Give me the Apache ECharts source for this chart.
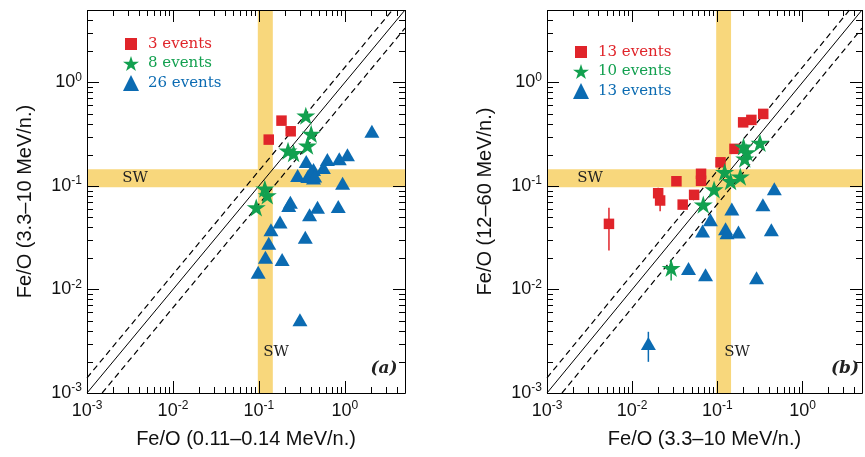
<!DOCTYPE html>
<html>
<head>
<meta charset="utf-8">
<script src="https://cdn.jsdelivr.net/npm/echarts@6/dist/echarts.min.js"></script>
<style>
  html, body { margin: 0; padding: 0; background: #fff; }
  #chart { width: 865px; height: 457px; }
</style>
</head>
<body>
<div id="chart"></div>
<script>
// panel (a): Fe/O 0.11-0.14 MeV/n. (x) vs 3.3-10 MeV/n. (y)
var aRedX = [0.183, 0.234, 0.130];
var aRedY = [0.427, 0.337, 0.280];
var aGreenX = [0.351, 0.405, 0.367, 0.218, 0.253, 0.117, 0.125, 0.093];
var aGreenY = [0.477, 0.318, 0.245, 0.219, 0.207, 0.094, 0.081, 0.062];
var aBlueX = [2.06, 0.355, 0.431, 0.625, 0.562, 0.86, 1.07, 0.282, 0.37, 0.431, 0.94, 0.398, 0.445,
  0.232, 0.222, 0.48, 0.837, 0.388, 0.176, 0.138, 0.346, 0.130, 0.119, 0.186, 0.098, 0.30];
var aBlueY = [0.337, 0.172, 0.144, 0.180, 0.151, 0.183, 0.20, 0.126, 0.123, 0.119, 0.106, 0.135, 0.125,
  0.0697, 0.0647, 0.0623, 0.0633, 0.0526, 0.0447, 0.0377, 0.032, 0.028, 0.0205, 0.0195, 0.0147, 0.0051];

// panel (b): Fe/O 3.3-10 MeV/n. (x) vs 12-60 MeV/n. (y)
var bRedX = [0.346, 0.251, 0.201, 0.159, 0.109, 0.0644, 0.0644, 0.0331, 0.0202, 0.0213, 0.0534, 0.0392, 0.00534];
var bRedY = [0.496, 0.434, 0.411, 0.228, 0.169, 0.131, 0.112, 0.111, 0.085, 0.0723, 0.082, 0.066, 0.043];
var bGreenX = [0.317, 0.203, 0.222, 0.21, 0.122, 0.186, 0.143, 0.0916, 0.0684, 0.0287];
var bGreenY = [0.26, 0.24, 0.211, 0.183, 0.136, 0.123, 0.111, 0.0923, 0.066, 0.0161];
var bBlueX = [0.148, 0.343, 0.083, 0.0671, 0.125, 0.13, 0.177, 0.431, 0.467, 0.0459, 0.0727, 0.289, 0.0155];
var bBlueY = [0.060, 0.0657, 0.0471, 0.0366, 0.0386, 0.0353, 0.0358, 0.0377, 0.0937, 0.0159, 0.0139, 0.013, 0.0030];

// error bars in panel (b): x, low, high
var bRedErrX = [0.0202, 0.0213, 0.00534];
var bRedErrLo = [0.085, 0.057, 0.0238];
var bRedErrHi = [0.096, 0.0723, 0.0615];
var bGreenErrX = [0.0287];
var bGreenErrLo = [0.0122];
var bGreenErrHi = [0.0195];
var bBlueErrX = [0.0155];
var bBlueErrLo = [0.0020];
var bBlueErrHi = [0.0039];

var legendA = ["3 events", "8 events", "26 events"];
var legendB = ["13 events", "10 events", "13 events"];
var xTitles = ["Fe/O (0.11\u20130.14 MeV/n.)", "Fe/O (3.3\u201310 MeV/n.)"];
var yTitles = ["Fe/O (3.3\u201310 MeV/n.)", "Fe/O (12\u201360 MeV/n.)"];

var axisMin = 0.001, axisMax = 5;
var swBand = [0.097, 0.145];     // solar wind range
var diagUp = 1.4, diagLo = 1.5;  // dashed lines factor
var majorTicks = [0.001, 0.01, 0.1, 1];
var minorSteps = [2, 3, 4, 5, 6, 7, 8, 9];

var RED = "#E0242A", GREEN = "#12A04F", BLUE = "#0B6BB2", BAND = "#F8D77C";
var SANS = "Liberation Sans";
var SERIF = "DejaVu Serif";
var STAR = "path://M50,0 L61.2,34.5 L97.6,34.5 L68.2,55.9 L79.4,90.5 L50,69.1 L20.6,90.5 L31.8,55.9 L2.4,34.5 L38.8,34.5 Z";
var SQUARE = "path://M0,0 M2,2 L14,2 L14,14 L2,14 Z M16,16";

var grids = [
  { left: 87, top: 10, width: 318, height: 383 },
  { left: 547, top: 10, width: 317, height: 383 }
];

function zip(xs, ys) { return xs.map(function (x, i) { return [x, ys[i]]; }); }
function zip3(xs, lo, hi) { return xs.map(function (x, i) { return [x, lo[i], hi[i]]; }); }

// tick list: [value, kind]  kind 0 x-major, 1 x-minor, 2 y-major, 3 y-minor, 4 frame
var tickData = [];
majorTicks.forEach(function (m) {
  tickData.push([m, 0], [m, 2]);
  minorSteps.forEach(function (s) {
    if (m * s <= axisMax) tickData.push([m * s, 1], [m * s, 3]);
  });
});
tickData.push([1, 4]);

function logLabel(v) {
  var e = Math.round(Math.log10(v));
  if (Math.abs(v / Math.pow(10, e) - 1) > 1e-6) return "";
  return "{b|10}{s|" + e + "}";
}
var labelRich = {
  b: { fontFamily: SANS, fontSize: 18, color: "#111", lineHeight: 22 },
  s: { fontFamily: SANS, fontSize: 12, color: "#111", lineHeight: 12, verticalAlign: "top" }
};

function tickItem(params, api) {
  var cs = params.coordSys;
  var v = api.value(0), k = api.value(1);
  var st = { stroke: "#000", lineWidth: 1, fill: null };
  if (k === 4) {
    return { type: "rect", shape: { x: cs.x + 0.5, y: cs.y + 0.5, width: cs.width, height: cs.height }, style: st };
  }
  var len = (k % 2 === 0) ? 12 : 6;
  if (k < 2) {
    var px = Math.round(api.coord([v, 1])[0]) + 0.5;
    return { type: "group", children: [
      { type: "line", shape: { x1: px, y1: cs.y + cs.height, x2: px, y2: cs.y + cs.height - len }, style: st },
      { type: "line", shape: { x1: px, y1: cs.y, x2: px, y2: cs.y + len }, style: st }
    ] };
  }
  var py = Math.round(api.coord([1, v])[1]) + 0.5;
  return { type: "group", children: [
    { type: "line", shape: { x1: cs.x, y1: py, x2: cs.x + len, y2: py }, style: st },
    { type: "line", shape: { x1: cs.x + cs.width, y1: py, x2: cs.x + cs.width - len, y2: py }, style: st }
  ] };
}

function errItem(params, api) {
  var top = api.coord([api.value(0), api.value(2)]);
  var bot = api.coord([api.value(0), api.value(1)]);
  return { type: "line", shape: { x1: top[0], y1: top[1], x2: bot[0], y2: bot[1] },
    style: { stroke: api.visual("color"), lineWidth: 1.5 } };
}

var series = [];
var panels = [
  { red: zip(aRedX, aRedY), green: zip(aGreenX, aGreenY), blue: zip(aBlueX, aBlueY), errs: [] },
  { red: zip(bRedX, bRedY), green: zip(bGreenX, bGreenY), blue: zip(bBlueX, bBlueY),
    errs: [[zip3(bRedErrX, bRedErrLo, bRedErrHi), RED], [zip3(bGreenErrX, bGreenErrLo, bGreenErrHi), GREEN],
      [zip3(bBlueErrX, bBlueErrLo, bBlueErrHi), BLUE]] }
];

panels.forEach(function (p, i) {
  var ax = { xAxisIndex: i, yAxisIndex: i };
  // SW bands
  series.push(Object.assign({
    type: "line", data: [], z: 1, silent: true,
    markArea: { silent: true, itemStyle: { color: BAND, opacity: 1 },
      data: [[{ xAxis: swBand[0] }, { xAxis: swBand[1] }], [{ yAxis: swBand[0] }, { yAxis: swBand[1] }]] }
  }, ax));
  // y = x and dashed lines
  var diag = [
    [[axisMin, axisMin], [axisMax, axisMax]],
    [[axisMin, axisMin * diagUp], [axisMax / diagUp, axisMax]],
    [[axisMin * diagLo, axisMin], [axisMax, axisMax / diagLo]]
  ];
  diag.forEach(function (d, j) {
    series.push(Object.assign({
      type: "line", data: d, symbol: "none", z: 2, silent: true,
      lineStyle: { color: "#000", width: j === 0 ? 1 : 1.2, type: j === 0 ? "solid" : [6, 4] }
    }, ax));
  });
  p.errs.forEach(function (e) {
    series.push(Object.assign({
      type: "custom", data: e[0], renderItem: errItem, itemStyle: { color: e[1] }, z: 3, silent: true
    }, ax));
  });
  var pre = i === 0 ? "a-" : "b-";
  series.push(Object.assign({ type: "scatter", name: pre + "red", data: p.red, symbol: SQUARE,
    symbolSize: 14, itemStyle: { color: RED, opacity: 1 }, z: 4 }, ax));
  series.push(Object.assign({ type: "scatter", name: pre + "green", data: p.green, symbol: STAR,
    symbolSize: 19, symbolKeepAspect: true, itemStyle: { color: GREEN, opacity: 1 }, z: 4 }, ax));
  series.push(Object.assign({ type: "scatter", name: pre + "blue", data: p.blue, symbol: "triangle",
    symbolSize: [15, 13], itemStyle: { color: BLUE, opacity: 1 }, z: 4 }, ax));
  // ticks and frame
  series.push(Object.assign({ type: "custom", data: tickData, dimensions: ["v", "k"],
    encode: { x: "v", y: "v" }, renderItem: tickItem, z: 5, silent: true }, ax));
});

var names = {
  "a-red": legendA[0], "a-green": legendA[1], "a-blue": legendA[2],
  "b-red": legendB[0], "b-green": legendB[1], "b-blue": legendB[2]
};
function makeLegend(pre, left, top) {
  return {
    left: left, top: top, orient: "vertical", itemWidth: 16, itemHeight: 16, itemGap: 3.5,
    selectedMode: false,
    data: [
      { name: pre + "red", textStyle: { color: RED } },
      { name: pre + "green", textStyle: { color: GREEN } },
      { name: pre + "blue", textStyle: { color: BLUE } }
    ],
    formatter: function (n) { return names[n]; },
    textStyle: { fontFamily: SERIF, fontSize: 15, lineHeight: 16, padding: [0, 0, 0, 4] }
  };
}

function text(x, y, s, extra) {
  return { type: "text", x: x, y: y, z: 100, style: Object.assign({ text: s, fill: "#222",
    font: "15px '" + SERIF + "'", textAlign: "center", textVerticalAlign: "middle" }, extra || {}) };
}

var chart = echarts.init(document.getElementById("chart"));
chart.setOption({
  animation: false,
  backgroundColor: "#fff",
  grid: grids,
  legend: [makeLegend("a-", 118, 31), makeLegend("b-", 568, 39)],
  xAxis: [0, 1].map(function (i) {
    return { type: "log", logBase: 10, gridIndex: i, min: axisMin, max: axisMax,
      axisLine: { show: false }, axisTick: { show: false }, splitLine: { show: false },
      axisLabel: { margin: 7, formatter: logLabel, rich: labelRich },
      name: xTitles[i], nameLocation: "middle", nameGap: 36,
      nameTextStyle: { fontFamily: SANS, fontSize: 20, color: "#111" } };
  }),
  yAxis: [0, 1].map(function (i) {
    return { type: "log", logBase: 10, gridIndex: i, min: axisMin, max: axisMax,
      axisLine: { show: false }, axisTick: { show: false }, splitLine: { show: false },
      axisLabel: { margin: 5, formatter: logLabel, rich: labelRich },
      name: yTitles[i], nameLocation: "middle", nameGap: 52,
      nameTextStyle: { fontFamily: SANS, fontSize: 20, color: "#111" } };
  }),
  graphic: {
    elements: [
      text(135, 178, "SW"), text(276, 352, "SW"),
      text(590, 178, "SW"), text(737, 352, "SW"),
      text(384, 369, "(a)", { font: "italic bold 17px '" + SERIF + "'" }),
      text(845, 369, "(b)", { font: "italic bold 17px '" + SERIF + "'" })
    ]
  },
  series: series
});
</script>
</body>
</html>
